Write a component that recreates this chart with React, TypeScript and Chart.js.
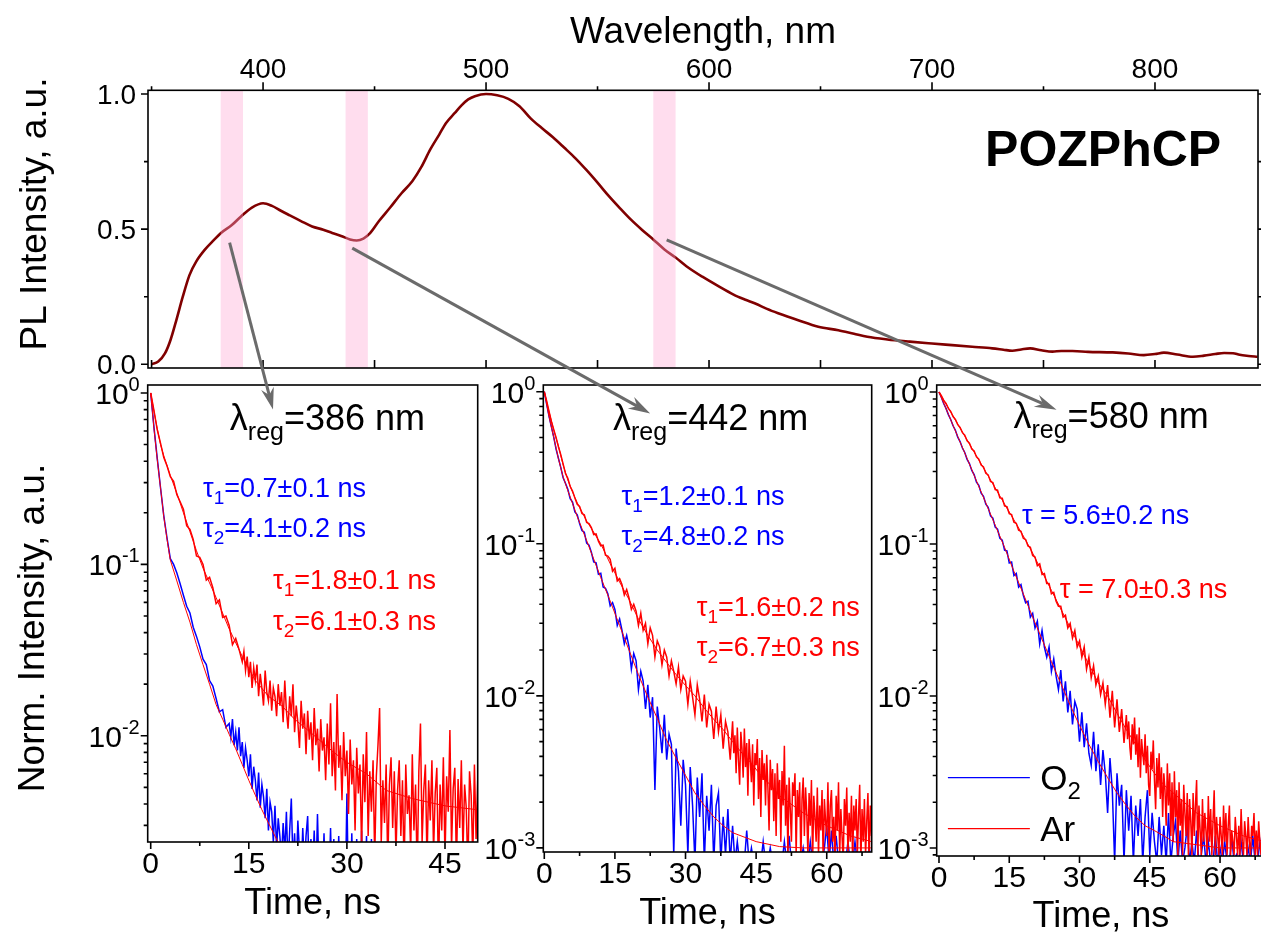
import React, { useEffect, useRef } from "react";
import { Chart, registerables } from "chart.js";

Chart.register(...registerables);

const FONT = '"Liberation Sans", Arial, Helvetica, sans-serif';
const CW = 1320;
const CH = 935;

// ---------------- PL spectrum (top panel) ----------------
const wavelengthNm = [
  350, 353, 356, 358.5, 361, 364, 367, 370, 374, 378, 381, 386, 390, 395, 400, 404, 408, 412, 417, 422,
  427, 431, 435, 439, 442, 445, 448, 452, 457, 462, 467, 471, 475, 479, 482, 486, 489, 492, 495, 500,
  505, 510, 515, 520, 525, 530, 535, 540, 545, 550, 555, 560, 565, 570, 575, 580, 585, 590, 597, 604,
  611, 616, 621, 626, 631, 640, 649, 658, 665, 671, 680, 690, 700, 709, 718, 727, 732, 736, 740, 744,
  749, 754, 758, 763, 770, 781, 788, 795, 800, 804, 810, 817, 822, 827, 831, 835, 838, 842, 846,
];
const plIntensity = [
  0, 0.01, 0.04, 0.09, 0.16, 0.25, 0.33, 0.38, 0.425, 0.46, 0.485, 0.515, 0.546, 0.58, 0.596, 0.586, 0.568, 0.551, 0.53, 0.51,
  0.498, 0.486, 0.475, 0.462, 0.458, 0.465, 0.485, 0.53, 0.58, 0.632, 0.678, 0.73, 0.795, 0.85, 0.892, 0.93, 0.958, 0.98, 0.992, 1.0,
  0.995, 0.982, 0.955, 0.91, 0.874, 0.84, 0.802, 0.763, 0.719, 0.672, 0.623, 0.578, 0.535, 0.497, 0.462, 0.425, 0.395, 0.362, 0.324, 0.29,
  0.258, 0.24, 0.224, 0.205, 0.189, 0.163, 0.139, 0.126, 0.113, 0.102, 0.092, 0.084, 0.077, 0.071, 0.065, 0.059, 0.054, 0.05, 0.055, 0.059,
  0.052, 0.047, 0.049, 0.049, 0.046, 0.044, 0.04, 0.034, 0.038, 0.043, 0.036, 0.028, 0.032, 0.038, 0.042, 0.041, 0.035, 0.031, 0.028,
];
const regWavelengthsNm = [386, 442, 580];
const regBandHalfWidthNm = 5;
const wlTicksMajor = [400, 500, 600, 700, 800];
const wlTicksMinor = [350, 450, 550, 650, 750];
const plTicksMajor = [0, 0.5, 1.0];
const plTicksMinor = [0.25, 0.75];

// ---------------- Decays ----------------
// each trace: "head" channels of 0.5 ns from t = 0, then "tail" channels of 0.25 ns from its start time
const HEAD_STEP_NS = 0.5;
const TAIL_STEP_NS = 0.25;

// 386 nm, O2
const o2_386_head = [
  1.0, 0.63, 0.415, 0.28, 0.192, 0.142, 0.108, 0.1, 0.089, 0.077,
  0.066, 0.057, 0.052, 0.043, 0.038, 0.033, 0.028, 0.026, 0.021, 0.0195,
  0.0165, 0.0138, 0.0142, 0.0112,
];
const o2_386_tailStart = 12;
const o2_386_tail = [
  0.0118, 0.0098, 0.0125, 0.0088, 0.0105, 0.0082, 0.0112, 0.0076, 0.0092, 0.0065, 0.0085, 0.0072,
  0.0058, 0.0078, 0.0049, 0.0066, 0.0055, 0.0042, 0.0061, 0.0038, 0.0052, 0.0044, 0.0033, 0.0049,
  0.0028, 0.0041, 0.0036, 0.0024, 0.0039, 0.0022, 0.0033, 0.0026, 0.0019, 0.0031, 0.0021, 0.0036,
  0.0017, 0.0028, 0.0043, 0.0018, 0.0027, 0.0016, 0.0032, 0.0021, 0.0015, 0.0029, 0.0017, 0.0026,
  0.0034, 0.0014, 0.0025, 0.0016, 0.0028, 0.0013, 0.0035, 0.0015, 0.0024, 0.0013, 0.0027, 0.0012,
  0.0022, 0.0013, 0.0029, 0.0012, 0.0025, 0.0011, 0.0012, 0.0026, 0.0011, 0.0012, 0.0024, 0.0011,
  0.0046, 0.0011, 0.0012, 0.0027, 0.0011, 0.0011, 0.0025, 0.0011, 0.0011, 0.0028, 0.001, 0.001,
  0.0026, 0.001, 0.001, 0.0025, 0.001, 0.001, 0.0024, 0.001, 0.001,
];
// 386 nm, Ar
const ar_386_head = [
  1.0, 0.79, 0.61, 0.51, 0.42, 0.375, 0.325, 0.305, 0.255, 0.232,
  0.21, 0.168, 0.16, 0.14, 0.112, 0.11, 0.1, 0.081, 0.084, 0.073,
  0.059, 0.062, 0.049, 0.05, 0.044, 0.034, 0.037, 0.032,
];
const ar_386_tailStart = 14;
const ar_386_tail = [
  0.027, 0.031, 0.024, 0.029, 0.022, 0.027, 0.019, 0.025, 0.021, 0.026, 0.017, 0.023,
  0.019, 0.015, 0.024, 0.018, 0.016, 0.021, 0.014, 0.019, 0.017, 0.013, 0.02, 0.015,
  0.018, 0.012, 0.021, 0.014, 0.011, 0.017, 0.013, 0.02, 0.0105, 0.015, 0.012, 0.0085,
  0.016, 0.011, 0.0135, 0.0078, 0.014, 0.0095, 0.012, 0.0072, 0.0145, 0.0088, 0.011, 0.0062,
  0.0125, 0.0082, 0.0098, 0.0055, 0.0118, 0.0068, 0.0155, 0.0058, 0.0092, 0.0048, 0.0175, 0.0065,
  0.0088, 0.0042, 0.0105, 0.0058, 0.0082, 0.0035, 0.0095, 0.0052, 0.0072, 0.0028, 0.0085, 0.0046,
  0.0068, 0.0022, 0.0078, 0.0041, 0.0105, 0.0026, 0.0062, 0.0036, 0.0072, 0.0019, 0.0058, 0.0088,
  0.0145, 0.0024, 0.0055, 0.0031, 0.0068, 0.0017, 0.0052, 0.0075, 0.0029, 0.0062, 0.002, 0.0048,
  0.0072, 0.0026, 0.0055, 0.0016, 0.0068, 0.0035, 0.0045, 0.0021, 0.0078, 0.0028, 0.0052, 0.0015,
  0.0062, 0.0118, 0.0024, 0.0048, 0.0068, 0.0018, 0.0055, 0.0032, 0.0072, 0.0021, 0.0046, 0.0065,
  0.0015, 0.0052, 0.0028, 0.0075, 0.0019, 0.0058, 0.0036, 0.0108, 0.0022, 0.0049, 0.0065, 0.0017,
  0.0056, 0.0029, 0.0072, 0.0021, 0.0052, 0.0038, 0.0016, 0.0062, 0.0045, 0.0019, 0.0068, 0.0025,
  0.0055,
];
const fitO2_386_t = [0, 0.5, 1, 1.5, 2, 2.5, 3, 4, 5, 6, 7, 8, 9, 10, 11, 12, 13, 14, 15, 16, 17, 18, 19, 20, 21, 22];
const fitO2_386_v = [1.0, 0.62, 0.41, 0.28, 0.19, 0.14, 0.106, 0.08, 0.06, 0.046, 0.034, 0.026, 0.02, 0.0152, 0.0125, 0.0102, 0.0084, 0.0068, 0.0055, 0.0045, 0.0037, 0.0031, 0.0026, 0.0022, 0.0019, 0.0017];
const fitAr_386_t = [0, 0.5, 1, 1.5, 2, 3, 4, 5, 6, 7, 8, 9, 10, 12, 14, 16, 18, 20, 22, 24, 26, 28, 30, 33, 36, 40, 45, 50];
const fitAr_386_v = [1.0, 0.78, 0.62, 0.5, 0.43, 0.33, 0.26, 0.2, 0.155, 0.12, 0.095, 0.078, 0.064, 0.042, 0.029, 0.021, 0.017, 0.015, 0.0125, 0.0108, 0.0093, 0.008, 0.007, 0.006, 0.0048, 0.0043, 0.0039, 0.0037];

// 442 nm, O2
const o2_442_head = [
  1.0, 0.83, 0.69, 0.59, 0.505, 0.42, 0.365, 0.318, 0.272, 0.25,
  0.228, 0.198, 0.188, 0.162, 0.155, 0.136, 0.122, 0.119, 0.101, 0.098,
  0.088, 0.076, 0.075, 0.063, 0.064, 0.052, 0.051, 0.047, 0.039, 0.041,
  0.037, 0.029, 0.032, 0.027, 0.022, 0.025, 0.021, 0.015, 0.019, 0.017,
  0.011, 0.0145, 0.0125, 0.0082, 0.0118, 0.0072, 0.0098, 0.0024, 0.0085, 0.0062,
  0.0042, 0.0075, 0.0038, 0.0056, 0.0048, 0.0009, 0.0045, 0.0032, 0.0014, 0.0038,
  0.0026, 0.0009, 0.0034, 0.0019, 0.0008, 0.0029, 0.0016, 0.0031, 0.0008, 0.0022,
  0.0013, 0.0026, 0.0008, 0.0019, 0.0023, 0.0008, 0.0016, 0.0009, 0.0018, 0.0008,
  0.0014, 0.0008, 0.0011, 0.0008, 0.0009, 0.0008, 0.0013, 0.0008, 0.001, 0.0008,
  0.0008, 0.0009, 0.0008, 0.0011, 0.0008, 0.0008, 0.001, 0.0008, 0.0008, 0.0009,
  0.0008, 0.0008, 0.0011, 0.0008, 0.0012, 0.0008, 0.0008, 0.0009, 0.0008, 0.0008,
  0.001, 0.0008, 0.0008, 0.0011, 0.0008, 0.0008, 0.0009, 0.0008, 0.0008, 0.001,
  0.0014, 0.0008, 0.0013, 0.0008, 0.0012, 0.0008, 0.0009, 0.0008, 0.0008, 0.0011,
  0.0008, 0.0008, 0.0011, 0.0008, 0.0008, 0.0009, 0.0008, 0.0008, 0.001, 0.0008,
];
const o2_442_tailStart = 70;
const o2_442_tail: number[] = [];
// 442 nm, Ar
const ar_442_head = [
  1.0, 0.87, 0.745, 0.64, 0.565, 0.5, 0.435, 0.385, 0.335, 0.29,
  0.27, 0.238, 0.222, 0.2, 0.182, 0.176, 0.158, 0.155, 0.138, 0.136,
  0.128, 0.115, 0.116, 0.104, 0.097, 0.098, 0.084, 0.083, 0.079, 0.066,
  0.069, 0.057, 0.059, 0.054, 0.046, 0.05, 0.044, 0.037, 0.04, 0.036,
  0.029, 0.035, 0.027, 0.03, 0.022, 0.028, 0.025, 0.018, 0.023, 0.021,
  0.016, 0.02, 0.018, 0.0135, 0.017, 0.0145, 0.012, 0.0155, 0.011, 0.0135,
  0.0125, 0.0088, 0.0125, 0.0098, 0.0075, 0.0118, 0.0095, 0.0068, 0.0102, 0.0062,
  0.0088, 0.0079, 0.0052, 0.0085, 0.0058, 0.0075, 0.0045, 0.0068, 0.0058, 0.0038,
];
const ar_442_tailStart = 40;
const ar_442_tail = [
  0.0068, 0.0042, 0.0055, 0.0031, 0.0062, 0.0038, 0.0026, 0.0058, 0.0045, 0.0029, 0.0061, 0.0034,
  0.0049, 0.0022, 0.0052, 0.0038, 0.0027, 0.0048, 0.0019, 0.0042, 0.0035, 0.0052, 0.0021, 0.0039,
  0.0016, 0.0044, 0.0028, 0.0036, 0.0019, 0.0041, 0.0025, 0.0013, 0.0038, 0.0024, 0.0033, 0.0015,
  0.0031, 0.0012, 0.0036, 0.0021, 0.0028, 0.0011, 0.0032, 0.0019, 0.0047, 0.0014, 0.0026, 0.0009,
  0.0029, 0.0018, 0.0011, 0.0027, 0.0022, 0.0031, 0.0009, 0.0024, 0.0016, 0.0027, 0.0008, 0.0021,
  0.0029, 0.0012, 0.0025, 0.0017, 0.0009, 0.0023, 0.0014, 0.0028, 0.0008, 0.0022, 0.0016, 0.0011,
  0.0025, 0.0009, 0.0019, 0.0013, 0.0024, 0.0008, 0.0021, 0.0015, 0.0012, 0.0027, 0.0009, 0.0019,
  0.0024, 0.0011, 0.0016, 0.0008, 0.0022, 0.0013, 0.0027, 0.0009, 0.0018, 0.0012, 0.0008, 0.0021,
  0.0014, 0.0025, 0.0009, 0.0017, 0.0011, 0.0022, 0.0008, 0.0019, 0.0013, 0.0021, 0.0009, 0.0016,
  0.0026, 0.0008, 0.0018, 0.0011, 0.0021, 0.0009, 0.0015, 0.0023, 0.0008, 0.0019, 0.0012, 0.0017,
];
const fitO2_442_t = [0, 1, 2, 3, 4, 5, 6, 7, 8, 9, 10, 12, 14, 16, 18, 20, 22, 24, 26, 28, 30, 32, 34, 36, 38, 40, 45, 50, 55, 60, 65, 69.5];
const fitO2_442_v = [1.0, 0.69, 0.5, 0.363, 0.275, 0.224, 0.184, 0.151, 0.126, 0.105, 0.087, 0.06, 0.042, 0.029, 0.02, 0.0138, 0.0098, 0.0071, 0.0051, 0.0039, 0.003, 0.0023, 0.0019, 0.0016, 0.0014, 0.00126, 0.0011, 0.00102, 0.001, 0.001, 0.001, 0.001];
const fitAr_442_t = [0, 1, 2, 3, 4, 5, 6, 7, 8, 9, 10, 12, 14, 16, 18, 20, 22, 24, 26, 28, 30, 32, 34, 36, 38, 40, 42, 44, 46, 48, 50, 55, 60, 65, 69.5];
const fitAr_442_v = [1.0, 0.74, 0.56, 0.44, 0.33, 0.263, 0.219, 0.186, 0.162, 0.141, 0.126, 0.1, 0.074, 0.056, 0.043, 0.032, 0.025, 0.02, 0.0166, 0.0138, 0.0117, 0.01, 0.0083, 0.007, 0.006, 0.005, 0.0042, 0.0036, 0.003, 0.0026, 0.0022, 0.0017, 0.0014, 0.0012, 0.0011];

// 580 nm, O2
const o2_580_head = [
  1.0, 0.925, 0.84, 0.78, 0.71, 0.66, 0.6, 0.56, 0.505, 0.472,
  0.428, 0.4, 0.36, 0.338, 0.305, 0.286, 0.255, 0.243, 0.216, 0.206,
  0.183, 0.174, 0.153, 0.148, 0.129, 0.125, 0.109, 0.106, 0.091, 0.09,
  0.075, 0.076, 0.062, 0.064, 0.052, 0.054, 0.046, 0.041, 0.042, 0.033,
  0.035, 0.028, 0.031, 0.022, 0.027, 0.021, 0.018, 0.021, 0.0145, 0.0175,
  0.0135, 0.011, 0.0148, 0.0092, 0.0125, 0.0078, 0.0108, 0.0065, 0.0092, 0.0082,
  0.005, 0.0078, 0.0046, 0.0066, 0.0042, 0.0035, 0.0058, 0.0032, 0.0048, 0.0026,
  0.0044, 0.0031, 0.0017, 0.0039, 0.0024, 0.0008, 0.0031, 0.0019, 0.0026, 0.0008,
  0.0024, 0.0013, 0.0022, 0.0008, 0.0019, 0.0012, 0.0021, 0.0008, 0.0016, 0.0024,
  0.0009, 0.0017, 0.0011, 0.0008, 0.0016, 0.0009, 0.0014, 0.0008, 0.0017, 0.0008,
  0.0012, 0.0015, 0.0008, 0.0013, 0.0008, 0.001, 0.0014, 0.0008, 0.0011, 0.0008,
  0.0013, 0.0008, 0.0009, 0.0012, 0.0008, 0.0011, 0.0008, 0.0008, 0.0012, 0.0008,
  0.001, 0.0008, 0.0011, 0.0008, 0.0008, 0.0012, 0.0008, 0.0009, 0.0008, 0.0011,
  0.0008, 0.0008, 0.001, 0.0008, 0.0012, 0.0008, 0.0008, 0.0011, 0.0008, 0.0009,
];
const o2_580_tailStart = 70;
const o2_580_tail: number[] = [];
// 580 nm, Ar
const ar_580_head = [
  1.0, 0.945, 0.88, 0.84, 0.78, 0.745, 0.69, 0.66, 0.61, 0.585,
  0.54, 0.52, 0.478, 0.46, 0.422, 0.409, 0.374, 0.362, 0.331, 0.321,
  0.292, 0.285, 0.258, 0.254, 0.228, 0.226, 0.201, 0.2, 0.178, 0.176,
  0.158, 0.156, 0.139, 0.137, 0.123, 0.121, 0.109, 0.107, 0.097, 0.095,
  0.084, 0.082, 0.072, 0.074, 0.063, 0.064, 0.055, 0.055, 0.047, 0.048,
  0.042, 0.039, 0.039, 0.033, 0.034, 0.028, 0.03, 0.024, 0.027, 0.021,
  0.023, 0.018, 0.021, 0.015, 0.018, 0.0132, 0.0158, 0.0118, 0.0135, 0.0102,
  0.0122, 0.0088, 0.0118, 0.0072, 0.0108, 0.0062, 0.0095, 0.0058, 0.0082, 0.0049,
];
const ar_580_tailStart = 40;
const ar_580_tail = [
  0.0075, 0.0052, 0.0068, 0.0046, 0.0038, 0.0065, 0.0048, 0.0072, 0.0041, 0.0056, 0.0034, 0.0062,
  0.0029, 0.0052, 0.0042, 0.0035, 0.0056, 0.0031, 0.0047, 0.0026, 0.0022, 0.0043, 0.0033, 0.0051,
  0.0028, 0.0018, 0.0039, 0.0025, 0.0042, 0.0021, 0.0034, 0.0016, 0.0031, 0.0024, 0.0014, 0.0036,
  0.0019, 0.0031, 0.0012, 0.0027, 0.0011, 0.0032, 0.0016, 0.0024, 0.0009, 0.0027, 0.0014, 0.0021,
  0.0009, 0.0026, 0.0017, 0.0012, 0.0023, 0.0009, 0.0021, 0.0015, 0.0009, 0.0023, 0.0012, 0.0019,
  0.0028, 0.0009, 0.0019, 0.0013, 0.0009, 0.0021, 0.0011, 0.0017, 0.0013, 0.0009, 0.0022, 0.0011,
  0.0018, 0.0009, 0.0015, 0.0024, 0.0009, 0.0016, 0.0012, 0.0009, 0.0016, 0.0012, 0.0009, 0.0019,
  0.0011, 0.0017, 0.0009, 0.0014, 0.0019, 0.0009, 0.0013, 0.0011, 0.0009, 0.0016, 0.0012, 0.0009,
  0.0014, 0.0009, 0.0018, 0.0011, 0.0009, 0.0015, 0.0012, 0.0009, 0.0016, 0.0011, 0.0009, 0.0014,
  0.0012, 0.0017, 0.0009, 0.0013, 0.0009, 0.0015, 0.0011, 0.0009, 0.0014, 0.0009, 0.0012, 0.0016,
];
const fitO2_580_t = [0, 2, 4, 6, 8, 10, 12, 14, 16, 18, 20, 22, 24, 26, 28, 30, 32, 34, 36, 38, 40, 42, 44, 46, 48, 50, 55, 60, 65, 69.5];
const fitO2_580_v = [1.0, 0.714, 0.51, 0.365, 0.26, 0.186, 0.133, 0.095, 0.066, 0.047, 0.033, 0.0236, 0.0168, 0.0121, 0.0087, 0.0064, 0.0048, 0.0037, 0.0029, 0.0023, 0.0019, 0.0016, 0.0014, 0.0013, 0.0012, 0.0011, 0.00105, 0.001, 0.001, 0.001];
const fitAr_580_t = [0, 2, 4, 6, 8, 10, 12, 14, 16, 18, 20, 22, 24, 26, 28, 30, 32, 34, 36, 38, 40, 42, 44, 46, 48, 50, 55, 60, 65, 69.5];
const fitAr_580_v = [1.0, 0.785, 0.616, 0.483, 0.379, 0.298, 0.234, 0.183, 0.144, 0.113, 0.087, 0.0656, 0.0495, 0.0374, 0.0282, 0.0213, 0.0161, 0.0122, 0.01, 0.0077, 0.006, 0.0048, 0.0038, 0.0031, 0.0026, 0.0023, 0.0017, 0.0014, 0.0012, 0.0011];

// ---------------- Text annotations ----------------
type Run = { t: string; s: number; dy?: number; w?: string };
const BLUE = "#0000ff";
const RED = "#ff0000";
const lam = (nm: string): Run[] => [
  { t: "λ", s: 36 },
  { t: "reg", s: 25, dy: 10 },
  { t: "=" + nm + " nm", s: 36 },
];
const tau = (sub: string, rest: string): Run[] => [
  { t: "τ", s: 27 },
  { t: sub, s: 19, dy: 7 },
  { t: rest, s: 27 },
];

const trace = (head: number[], tailStart: number, tail: number[]) =>
  head
    .map((v, i) => ({ x: i * HEAD_STEP_NS, y: v }))
    .concat(tail.map((v, i) => ({ x: tailStart + i * TAIL_STEP_NS, y: v })));

const panels = [
  {
    box: { left: 147.7, top: 385, right: 477.7, bottom: 842 },
    xRange: [-0.46, 50],
    yRange: [0.0024, 1.113],
    xMajor: [0, 15, 30, 45],
    xMinor: [7.5, 22.5, 37.5],
    o2: trace(o2_386_head, o2_386_tailStart, o2_386_tail),
    ar: trace(ar_386_head, ar_386_tailStart, ar_386_tail),
    fitO2: [fitO2_386_t, fitO2_386_v], fitAr: [fitAr_386_t, fitAr_386_v],
    texts: [
      { t: 12.1, v: 0.724, color: "#000", runs: lam("386") },
      { t: 8.0, v: 0.283, color: BLUE, runs: tau("1", "=0.7±0.1 ns") },
      { t: 8.0, v: 0.165, color: BLUE, runs: tau("2", "=4.1±0.2 ns") },
      { t: 18.7, v: 0.082, color: RED, runs: tau("1", "=1.8±0.1 ns") },
      { t: 18.7, v: 0.047, color: RED, runs: tau("2", "=6.1±0.3 ns") },
    ],
    legend: null as any,
    titleDy: 72,
  },
  {
    box: { left: 543.3, top: 385, right: 871.7, bottom: 852 },
    xRange: [-0.21, 69.55],
    yRange: [0.00094, 1.107],
    xMajor: [0, 15, 30, 45, 60],
    xMinor: [7.5, 22.5, 37.5, 52.5, 67.5],
    o2: trace(o2_442_head, o2_442_tailStart, o2_442_tail),
    ar: trace(ar_442_head, ar_442_tailStart, ar_442_tail),
    fitO2: [fitO2_442_t, fitO2_442_v], fitAr: [fitAr_442_t, fitAr_442_v],
    texts: [
      { t: 14.6, v: 0.682, color: "#000", runs: lam("442") },
      { t: 16.4, v: 0.209, color: BLUE, runs: tau("1", "=1.2±0.1 ns") },
      { t: 16.4, v: 0.114, color: BLUE, runs: tau("2", "=4.8±0.2 ns") },
      { t: 32.4, v: 0.039, color: RED, runs: tau("1", "=1.6±0.2 ns") },
      { t: 32.4, v: 0.0213, color: RED, runs: tau("2", "=6.7±0.3 ns") },
    ],
    legend: null as any,
    titleDy: 72,
  },
  {
    box: { left: 936.7, top: 385, right: 1265, bottom: 856 },
    xRange: [-0.49, 69.6],
    yRange: [0.000885, 1.112],
    xMajor: [0, 15, 30, 45, 60],
    xMinor: [7.5, 22.5, 37.5, 52.5, 67.5],
    o2: trace(o2_580_head, o2_580_tailStart, o2_580_tail),
    ar: trace(ar_580_head, ar_580_tailStart, ar_580_tail),
    fitO2: [fitO2_580_t, fitO2_580_v], fitAr: [fitAr_580_t, fitAr_580_v],
    texts: [
      { t: 15.9, v: 0.709, color: "#000", runs: lam("580") },
      { t: 17.7, v: 0.156, color: BLUE, runs: [{ t: "τ = 5.6±0.2 ns", s: 27 }] },
      { t: 25.8, v: 0.0514, color: RED, runs: [{ t: "τ = 7.0±0.3 ns", s: 27 }] },
    ],
    legend: {
      lineFrom: 1.9, lineTo: 19.4, textAt: 21.6,
      rows: [
        { v: 0.0029, color: BLUE, runs: [{ t: "O", s: 35 }, { t: "2", s: 24, dy: 9 }] },
        { v: 0.00134, color: RED, runs: [{ t: "Ar", s: 35 }] },
      ],
    },
    titleDy: 71,
  },
];

// arrows: from (wavelength, PL) in top panel to (time, intensity) in a decay panel
const arrows = [
  { wl: 385, pl: 0.45, panel: 0, t: 18.7, v: 0.8 },
  { wl: 440, pl: 0.43, panel: 1, t: 22.5, v: 0.72 },
  { wl: 581, pl: 0.46, panel: 2, t: 25.1, v: 0.765 },
];

// ---------------- helpers ----------------
function runsWidth(ctx: CanvasRenderingContext2D, runs: Run[]) {
  let w = 0;
  for (const r of runs) {
    ctx.font = `${r.w || "normal"} ${r.s}px ${FONT}`;
    w += ctx.measureText(r.t).width;
  }
  return w;
}
function drawRuns(ctx: CanvasRenderingContext2D, runs: Run[], x: number, baseline: number, align = "left") {
  const total = runsWidth(ctx, runs);
  let cx = align === "right" ? x - total : align === "center" ? x - total / 2 : x;
  ctx.textAlign = "left";
  ctx.textBaseline = "alphabetic";
  for (const r of runs) {
    ctx.font = `${r.w || "normal"} ${r.s}px ${FONT}`;
    ctx.fillText(r.t, cx, baseline + (r.dy || 0));
    cx += ctx.measureText(r.t).width;
  }
}
function logMajors(min: number, max: number) {
  const out: number[] = [];
  for (let e = -5; e <= 2; e++) {
    const v = Math.pow(10, e);
    if (v >= min * 0.999 && v <= max) out.push(v);
  }
  return out;
}
function logMinors(min: number, max: number) {
  const out: number[] = [];
  for (let e = -5; e <= 1; e++)
    for (let m = 2; m <= 9; m++) {
      const v = m * Math.pow(10, e);
      if (v >= min && v <= max) out.push(v);
    }
  return out;
}
const zip = (ts: number[], vs: number[]) => ts.map((t, i) => ({ x: t, y: vs[i] }));

function boxPadding(b: { left: number; top: number; right: number; bottom: number }) {
  return { left: b.left, top: b.top, right: CW - b.right, bottom: CH - b.bottom };
}

// ---------------- chart builders ----------------
function makeTop(canvas: HTMLCanvasElement) {
  const box = { left: 148, top: 90.3, right: 1258, bottom: 368 };
  const deco = {
    id: "topDeco",
    afterDatasetsDraw(chart: any) {
      const { ctx, chartArea } = chart;
      const xs = chart.scales.x;
      ctx.save();
      ctx.fillStyle = "rgba(255,166,211,0.38)";
      for (const c of regWavelengthsNm) {
        const a = xs.getPixelForValue(c - regBandHalfWidthNm);
        const b = xs.getPixelForValue(c + regBandHalfWidthNm);
        ctx.fillRect(a, chartArea.top, b - a, chartArea.bottom - chartArea.top);
      }
      ctx.restore();
    },
    afterDraw(chart: any) {
      const { ctx, chartArea } = chart;
      const { left, right, top, bottom } = chartArea;
      const xs = chart.scales.x, ys = chart.scales.y;
      ctx.save();
      ctx.strokeStyle = "#000";
      ctx.fillStyle = "#000";
      ctx.lineWidth = 1.6;
      ctx.strokeRect(left, top, right - left, bottom - top);
      ctx.beginPath();
      for (const v of wlTicksMajor) {
        const px = xs.getPixelForValue(v);
        ctx.moveTo(px, top); ctx.lineTo(px, top - 8);
        ctx.moveTo(px, bottom); ctx.lineTo(px, bottom - 8);
      }
      for (const v of wlTicksMinor) {
        const px = xs.getPixelForValue(v);
        ctx.moveTo(px, top); ctx.lineTo(px, top - 4);
        ctx.moveTo(px, bottom); ctx.lineTo(px, bottom - 8);
      }
      for (const v of plTicksMajor) {
        const py = ys.getPixelForValue(v);
        ctx.moveTo(left, py); ctx.lineTo(left - 7, py);
        ctx.moveTo(right, py); ctx.lineTo(right + 7, py);
      }
      for (const v of plTicksMinor) {
        const py = ys.getPixelForValue(v);
        ctx.moveTo(left, py); ctx.lineTo(left - 4, py);
        ctx.moveTo(right, py); ctx.lineTo(right + 4, py);
      }
      ctx.stroke();
      ctx.font = `28px ${FONT}`;
      ctx.textAlign = "center";
      ctx.textBaseline = "alphabetic";
      for (const v of wlTicksMajor) ctx.fillText(String(v), xs.getPixelForValue(v), top - 12);
      ctx.textAlign = "right";
      for (const v of plTicksMajor) ctx.fillText(v.toFixed(1), left - 12, ys.getPixelForValue(v) + 10);
      ctx.textAlign = "center";
      ctx.font = `37px ${FONT}`;
      ctx.fillText("Wavelength, nm", (left + right) / 2, 43);
      ctx.save();
      ctx.translate(46, 214);
      ctx.rotate(-Math.PI / 2);
      ctx.fillText("PL Intensity, a.u.", 0, 0);
      ctx.restore();
      ctx.textAlign = "left";
      ctx.font = `bold 50px ${FONT}`;
      ctx.fillText("POZPhCP", xs.getPixelForValue(723.8), ys.getPixelForValue(0.8) + 18);
      ctx.restore();
    },
  };
  return new Chart(canvas, {
    type: "line",
    data: {
      datasets: [
        {
          data: zip(wavelengthNm, plIntensity),
          borderColor: "#800000",
          borderWidth: 2.6,
          pointRadius: 0,
          cubicInterpolationMode: "monotone",
          fill: false,
        } as any,
      ],
    },
    options: {
      animation: false,
      responsive: false,
      devicePixelRatio: 1,
      events: [],
      layout: { padding: boxPadding(box) },
      plugins: { legend: { display: false }, tooltip: { enabled: false } },
      scales: {
        x: { type: "linear", min: 348.4, max: 846.2, display: false },
        y: { type: "linear", min: -0.0137, max: 1.0137, display: false },
      },
    } as any,
    plugins: [deco],
  });
}

function makeDecay(canvas: HTMLCanvasElement, p: any, idx: number) {
  const deco = {
    id: "decayDeco" + idx,
    afterDraw(chart: any) {
      const { ctx, chartArea } = chart;
      const { left, right, top, bottom } = chartArea;
      const xs = chart.scales.x, ys = chart.scales.y;
      ctx.save();
      ctx.strokeStyle = "#000";
      ctx.fillStyle = "#000";
      ctx.lineWidth = 1.6;
      ctx.strokeRect(left, top, right - left, bottom - top);
      const yMaj = logMajors(p.yRange[0], p.yRange[1]);
      const yMin = logMinors(p.yRange[0], p.yRange[1]);
      ctx.beginPath();
      for (const v of p.xMajor) {
        const px = xs.getPixelForValue(v);
        ctx.moveTo(px, bottom); ctx.lineTo(px, bottom + 7);
      }
      for (const v of p.xMinor) {
        const px = xs.getPixelForValue(v);
        ctx.moveTo(px, bottom); ctx.lineTo(px, bottom + 4);
      }
      for (const v of yMaj) {
        const py = ys.getPixelForValue(v);
        ctx.moveTo(left, py); ctx.lineTo(left - 7, py);
      }
      for (const v of yMin) {
        const py = ys.getPixelForValue(v);
        ctx.moveTo(left, py); ctx.lineTo(left - 4, py);
      }
      ctx.stroke();
      ctx.font = `30px ${FONT}`;
      ctx.textAlign = "center";
      ctx.textBaseline = "alphabetic";
      for (const v of p.xMajor) ctx.fillText(String(v), xs.getPixelForValue(v), bottom + 31);
      ctx.font = `36px ${FONT}`;
      ctx.fillText("Time, ns", (left + right) / 2, bottom + p.titleDy);
      for (const v of yMaj) {
        const e = Math.round(Math.log10(v));
        const py = ys.getPixelForValue(v);
        drawRuns(ctx, [{ t: "10", s: 30 }, { t: e === 0 ? "0" : "-" + Math.abs(e), s: 20, dy: -13 }], left - 8, py + 11, "right");
      }
      for (const tx of p.texts) {
        ctx.fillStyle = tx.color;
        const px = xs.getPixelForValue(tx.t);
        const py = ys.getPixelForValue(tx.v);
        drawRuns(ctx, tx.runs, px, py + 0.36 * tx.runs[0].s, "left");
      }
      if (p.legend) {
        const lg = p.legend;
        for (const row of lg.rows) {
          const py = ys.getPixelForValue(row.v);
          ctx.strokeStyle = row.color;
          ctx.lineWidth = 1.3;
          ctx.beginPath();
          ctx.moveTo(xs.getPixelForValue(lg.lineFrom), py);
          ctx.lineTo(xs.getPixelForValue(lg.lineTo), py);
          ctx.stroke();
          ctx.fillStyle = "#000";
          drawRuns(ctx, row.runs, xs.getPixelForValue(lg.textAt), py + 0.36 * row.runs[0].s, "left");
        }
      }
      ctx.restore();
      if (idx === 0) {
        ctx.save();
        ctx.fillStyle = "#000";
        ctx.font = `37px ${FONT}`;
        ctx.textAlign = "center";
        ctx.textBaseline = "alphabetic";
        ctx.translate(44, 628);
        ctx.rotate(-Math.PI / 2);
        ctx.fillText("Norm. Intensity, a.u.", 0, 0);
        ctx.restore();
      }
    },
  };
  const line = (data: any[], color: string, width: number) => ({
    data,
    borderColor: color,
    borderWidth: width,
    pointRadius: 0,
    tension: 0,
    fill: false,
  });
  return new Chart(canvas, {
    type: "line",
    data: {
      datasets: [
        line(zip(p.fitO2[0], p.fitO2[1]), "#ff0000", 1),
        line(zip(p.fitAr[0], p.fitAr[1]), "#ff0000", 1),
        line(p.ar, "#ff0000", 1.5),
        line(p.o2, "#0000ff", 1.5),
      ] as any,
    },
    options: {
      animation: false,
      responsive: false,
      devicePixelRatio: 1,
      events: [],
      layout: { padding: boxPadding(p.box) },
      plugins: { legend: { display: false }, tooltip: { enabled: false } },
      scales: {
        x: { type: "linear", min: p.xRange[0], max: p.xRange[1], display: false },
        y: { type: "logarithmic", min: p.yRange[0], max: p.yRange[1], display: false },
      },
    } as any,
    plugins: [deco],
  });
}

function drawArrows(canvas: HTMLCanvasElement, top: any, decays: any[]) {
  const ctx = canvas.getContext("2d");
  if (!ctx) return;
  ctx.clearRect(0, 0, canvas.width, canvas.height);
  const col = "#6b6b6b";
  for (const a of arrows) {
    const x1 = top.scales.x.getPixelForValue(a.wl);
    const y1 = top.scales.y.getPixelForValue(a.pl);
    const d = decays[a.panel];
    const x2 = d.scales.x.getPixelForValue(a.t);
    const y2 = d.scales.y.getPixelForValue(a.v);
    const ang = Math.atan2(y2 - y1, x2 - x1);
    const c = Math.cos(ang), s = Math.sin(ang);
    const L = 22, Wd = 6.5, notch = 15;
    const nx = x2 - c * notch, ny = y2 - s * notch;
    ctx.strokeStyle = col;
    ctx.fillStyle = col;
    ctx.lineWidth = 3;
    ctx.beginPath();
    ctx.moveTo(x1, y1);
    ctx.lineTo(nx, ny);
    ctx.stroke();
    const bx = x2 - c * L, by = y2 - s * L;
    ctx.beginPath();
    ctx.moveTo(x2, y2);
    ctx.lineTo(bx - s * Wd, by + c * Wd);
    ctx.lineTo(nx, ny);
    ctx.lineTo(bx + s * Wd, by - c * Wd);
    ctx.closePath();
    ctx.fill();
  }
}

export default function App() {
  const topRef = useRef<HTMLCanvasElement>(null);
  const r1 = useRef<HTMLCanvasElement>(null);
  const r2 = useRef<HTMLCanvasElement>(null);
  const r3 = useRef<HTMLCanvasElement>(null);
  const ovRef = useRef<HTMLCanvasElement>(null);

  useEffect(() => {
    const charts: any[] = [];
    const top = makeTop(topRef.current!);
    charts.push(top);
    const decays = [r1, r2, r3].map((r, i) => makeDecay(r.current!, panels[i], i));
    charts.push(...decays);
    drawArrows(ovRef.current!, top, decays);
    return () => charts.forEach((c) => c.destroy());
  }, []);

  const cs: React.CSSProperties = { position: "absolute", left: 0, top: 0, width: CW, height: CH };
  return (
    <div style={{ position: "fixed", left: 0, top: 0, width: 1261, height: 935, overflow: "hidden", background: "#fff" }}>
      <canvas ref={topRef} width={CW} height={CH} style={cs} />
      <canvas ref={r1} width={CW} height={CH} style={cs} />
      <canvas ref={r2} width={CW} height={CH} style={cs} />
      <canvas ref={r3} width={CW} height={CH} style={cs} />
      <canvas ref={ovRef} width={CW} height={CH} style={{ ...cs, pointerEvents: "none" }} />
    </div>
  );
}
